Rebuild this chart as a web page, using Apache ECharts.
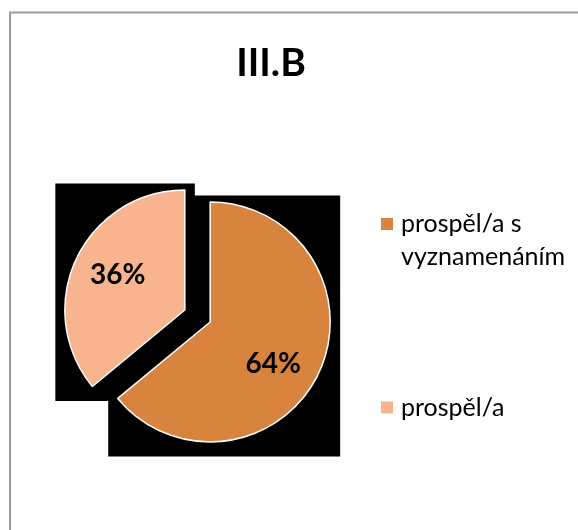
<!DOCTYPE html>
<html>
<meta charset="UTF-8">
<title>III.B</title>
<style type="text/css">
    html,
    body {
        margin: 0px;
        width: 100%;
        height: 100%;
        background: #fff;
    }

    #chart {
        width: 578px;
        height: 530px;
    }
</style>
<script src="https://cdn.jsdelivr.net/npm/echarts@6/dist/echarts.min.js"></script>

<body>
    <div id="chart"></div>
    <script>
        const title = 'III.B';
        const categories = ['prospěl/a s vyznamenáním', 'prospěl/a'];
        const values = [64, 36];

        const sliceColors = ['#D9843E', '#F7B48E'];
        const FONT = 'Lato';
        const OFFSET = 14;
        // label nudges (excel puts them a bit off the mid line)
        const labelNudge = [[6, 15], [-10, -8]];

        const chart = echarts.init(document.getElementById('chart'));

        function itemLayout(i) {
            return chart.getModel().getSeriesByIndex(0).getData().getItemLayout(i);
        }

        // box around a sector, shifted by the explode offset
        function sectorBox(l) {
            const mid = (l.startAngle + l.endAngle) / 2;
            const dx = OFFSET * Math.cos(mid);
            const dy = OFFSET * Math.sin(mid);
            const xs = [l.cx], ys = [l.cy];
            for (let k = 0; k <= 240; k++) {
                const a = l.startAngle + (l.endAngle - l.startAngle) * k / 240;
                xs.push(l.cx + l.r * Math.cos(a));
                ys.push(l.cy + l.r * Math.sin(a));
            }
            return {
                x0: Math.min(...xs) + dx, x1: Math.max(...xs) + dx,
                y0: Math.min(...ys) + dy, y1: Math.max(...ys) + dy
            };
        }

        const legendText = {
            fontFamily: FONT,
            fontSize: 25,
            lineHeight: 33,
            color: '#000',
            padding: [0, 0, 0, 3]
        };

        const option = {
            animation: false,
            backgroundColor: '#fff',
            color: sliceColors,
            title: {
                text: title,
                left: 266,
                top: 39,
                textAlign: 'center',
                textStyle: {
                    fontFamily: FONT,
                    fontWeight: 'bold',
                    fontSize: 39,
                    color: '#000'
                }
            },
            legend: [{
                data: [categories[0]],
                orient: 'vertical',
                left: 381,
                top: 174.5,
                padding: 0,
                icon: 'rect',
                itemWidth: 12,
                itemHeight: 12,
                itemStyle: { borderWidth: 0, borderColor: 'transparent' },
                selectedMode: false,
                // empty first line keeps the icon level with "prospěl/a s"
                formatter: (name) => '\n' + name.replace(' s ', ' s\n'),
                textStyle: legendText
            }, {
                data: [categories[1]],
                orient: 'vertical',
                left: 381,
                top: 391,
                padding: 0,
                icon: 'rect',
                itemWidth: 12,
                itemHeight: 12,
                itemStyle: { borderWidth: 0, borderColor: 'transparent' },
                selectedMode: false,
                textStyle: legendText
            }],
            graphic: [],
            series: [{
                type: 'pie',
                z: 5,
                center: [197.5, 316],
                radius: 120,
                startAngle: 90,
                clockwise: true,
                selectedMode: 'multiple',
                selectedOffset: OFFSET,
                avoidLabelOverlap: false,
                itemStyle: {
                    borderColor: '#fff',
                    borderWidth: 1.5
                },
                emphasis: { disabled: true },
                label: {
                    show: true,
                    position: 'inside',
                    formatter: '{d}%',
                    fontFamily: FONT,
                    fontWeight: 'bold',
                    fontSize: 28,
                    color: '#000'
                },
                labelLine: { show: false },
                labelLayout: (p) => ({
                    dx: labelNudge[p.dataIndex][0],
                    dy: labelNudge[p.dataIndex][1]
                }),
                data: categories.map((name, i) => ({
                    name: name,
                    value: values[i],
                    selected: true
                }))
            }]
        };
        chart.setOption(option);

        // black boxes behind the slices, and the outer frame
        const shapes = [{
            type: 'rect',
            z: 0,
            shape: { x: 10, y: 12.5, width: 700, height: 700 },
            style: { fill: 'none', stroke: '#9a9a9a', lineWidth: 2 }
        }];
        values.forEach((v, i) => {
            const b = sectorBox(itemLayout(i));
            shapes.push({
                type: 'rect',
                z: 1,
                shape: {
                    x: b.x0 - 9.5,
                    y: b.y0 - 6.5,
                    width: b.x1 - b.x0 + 19.5,
                    height: b.y1 - b.y0 + 21
                },
                style: { fill: '#000' }
            });
        });
        chart.setOption({ graphic: shapes });
    </script>
</body>

</html>
